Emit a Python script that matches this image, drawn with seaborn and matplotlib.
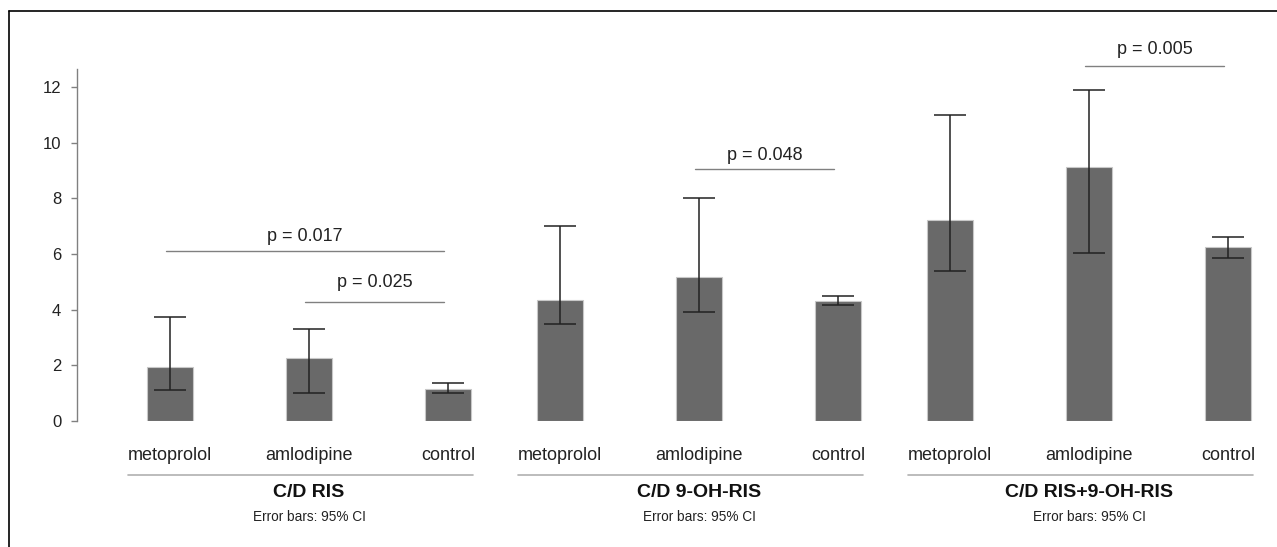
import numpy as np
import pandas as pd
import matplotlib
matplotlib.use("Agg")
import matplotlib.pyplot as plt
import matplotlib.transforms as mtransforms
from matplotlib.lines import Line2D
import seaborn as sns

# Data
groups = ["C/D RIS", "C/D 9-OH-RIS", "C/D RIS+9-OH-RIS"]
treatments = ["metoprolol", "amlodipine", "control"]
means = [1.94, 2.25, 1.14, 4.34, 5.16, 4.32, 7.22, 9.11, 6.26]
ci_low = [1.11, 0.99, 1.00, 3.48, 3.91, 4.17, 5.37, 6.04, 5.84]
ci_high = [3.73, 3.31, 1.36, 6.99, 8.00, 4.50, 11.00, 11.90, 6.61]
note = "Error bars: 95% CI"

# significance brackets: (bar a, bar b, line y, text y, label)
sig_a = [0, 1, 4, 7]
sig_b = [2, 2, 5, 8]
sig_y = [6.11, 4.28, 9.05, 12.76]
sig_text_y = [6.61, 4.96, 9.55, 13.35]
sig_labels = ["p = 0.017", "p = 0.025", "p = 0.048", "p = 0.005"]

# layout: bars 1 unit apart inside a group, groups 2.806 units apart
group_step = 2.806
bar_w = 0.331

rows = []
for g, grp in enumerate(groups):
    for i, trt in enumerate(treatments):
        k = g * 3 + i
        rows.append({"group": grp, "treatment": trt, "pos": g * group_step + i,
                     "value": means[k], "lo": ci_low[k], "hi": ci_high[k]})
df = pd.DataFrame(rows)

sns.set_style("white")
plt.rcParams["font.family"] = ["Liberation Sans", "DejaVu Sans"]

fig = plt.figure(figsize=(12.77, 5.47), dpi=100)
ax = fig.add_axes([77 / 1277, 1 - 421 / 547, (1270 - 77) / 1277, 352 / 547])

min_gap = np.min(np.diff(np.sort(df["pos"].values)))
sns.barplot(data=df, x="pos", y="value", native_scale=True, width=bar_w / min_gap,
            color="#696969", saturation=1, errorbar=None,
            edgecolor="#c8c8c8", linewidth=0.8, ax=ax)

ax.errorbar(df["pos"], df["value"],
            yerr=[df["value"] - df["lo"], df["hi"] - df["value"]],
            fmt="none", ecolor="#222222", elinewidth=1.1, capsize=11.5, capthick=1.1)

ax.set_xlim((77 - 170) / 139, (1270 - 170) / 139)
ax.set_ylim(0, 12.64)
ax.set_yticks([0, 2, 4, 6, 8, 10, 12])
ax.set_xticks([])
ax.set_xlabel("")
ax.set_ylabel("")
for s in ["top", "right", "bottom"]:
    ax.spines[s].set_visible(False)
ax.spines["left"].set_color("#808080")
ax.spines["left"].set_linewidth(1.0)
ax.tick_params(axis="y", left=True, length=4.3, width=1.0, color="#808080",
               pad=7, labelsize=12, labelcolor="#222222")

trans = mtransforms.blended_transform_factory(ax.transData, ax.transAxes)

# category labels
for _, r in df.iterrows():
    ax.text(r["pos"], -0.0966, r["treatment"], transform=trans, ha="center",
            va="center", fontsize=13, color="#222222", clip_on=False)

# group lines and titles
for g, grp in enumerate(groups):
    x0 = g * group_step
    ax.add_line(Line2D([x0 - 0.30, x0 + 2.18], [-0.1534, -0.1534], transform=trans,
                       color="#b0b0b0", lw=1.2, clip_on=False))
    ax.text(x0 + 1, -0.2045, grp, transform=trans, ha="center", va="center",
            fontsize=14, fontweight="bold", color="#111111", clip_on=False)
    ax.text(x0 + 1, -0.2727, note, transform=trans, ha="center", va="center",
            fontsize=9.8, color="#222222", clip_on=False)

# significance lines
pos = df["pos"].values
for a, b, y, ty, lab in zip(sig_a, sig_b, sig_y, sig_text_y, sig_labels):
    x1, x2 = pos[a] - 0.03, pos[b] - 0.03
    ax.plot([x1, x2], [y, y], color="#808080", lw=1.0, clip_on=False)
    ax.text((x1 + x2) / 2, ty, lab, ha="center", va="center", fontsize=13,
            color="#222222", clip_on=False)

# frame around the figure (only top and left visible in the reference)
fig.add_artist(Line2D([8.5 / 1277, 1], [1 - 10.5 / 547, 1 - 10.5 / 547],
                      transform=fig.transFigure, color="black", lw=1.2))
fig.add_artist(Line2D([8.5 / 1277, 8.5 / 1277], [0, 1 - 10.5 / 547],
                      transform=fig.transFigure, color="black", lw=1.2))

fig.savefig("out.png", dpi=100)
